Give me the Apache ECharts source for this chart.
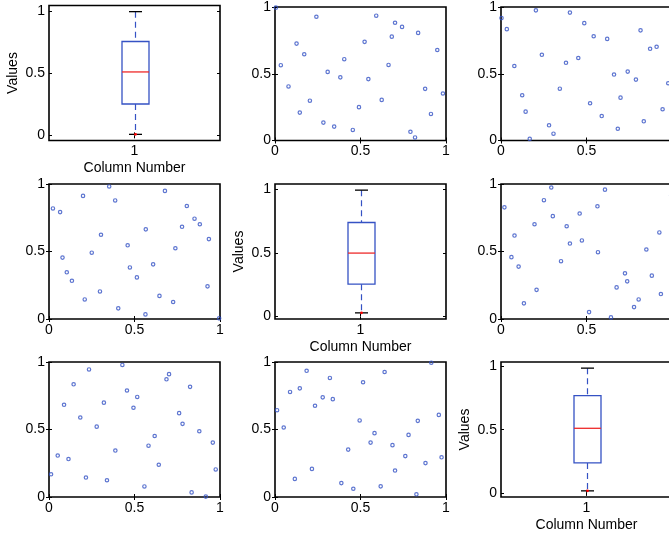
<!DOCTYPE html>
<html><head><meta charset="utf-8">
<script src="https://cdn.jsdelivr.net/npm/echarts@6/dist/echarts.min.js"></script>
<style>html,body{margin:0;padding:0;overflow:hidden;background:#fff}#c{width:680px;height:540px}</style>
</head><body><div id="c"></div><script>
// Scatter pair A (row1/col2 as x,y ; transposed at row2/col1)
const pairAx = [0.005,0.242,0.592,0.702,0.743,0.837,0.683,0.524,0.126,0.171,0.949,0.405,0.034,0.664,0.308,0.382,0.546,0.079,0.878,0.982,0.204,0.624,0.491,0.145,0.912,0.283,0.346,0.455,0.792,0.819];
const pairAy = [0.995,0.927,0.935,0.882,0.851,0.806,0.778,0.739,0.726,0.646,0.678,0.609,0.564,0.566,0.514,0.473,0.460,0.405,0.387,0.352,0.298,0.304,0.250,0.209,0.199,0.134,0.104,0.079,0.065,0.023];
// Scatter pair B (row3/col1 as x,y ; transposed at row1/col3)
const pairBx = [0.429,0.234,0.702,0.687,0.144,0.825,0.456,0.516,0.321,0.088,0.494,0.761,0.183,0.781,0.279,0.879,0.618,0.958,0.582,0.388,0.051,0.114,0.642,0.975,0.012,0.216,0.339,0.558,0.834,0.917];
const pairBy = [0.978,0.945,0.910,0.872,0.835,0.816,0.789,0.741,0.699,0.683,0.661,0.621,0.589,0.542,0.521,0.487,0.452,0.403,0.380,0.344,0.307,0.281,0.239,0.204,0.168,0.144,0.124,0.078,0.034,0.003];
// Scatter pair C (row3/col2 as x,y ; transposed at row2/col3)
const pairCx = [0.914,0.185,0.641,0.321,0.515,0.088,0.145,0.279,0.338,0.234,0.012,0.958,0.495,0.835,0.051,0.582,0.781,0.559,0.687,0.428,0.762,0.974,0.880,0.216,0.702,0.116,0.388,0.618,0.458,0.827];
const pairCy = [0.995,0.935,0.926,0.882,0.850,0.778,0.805,0.738,0.725,0.676,0.643,0.608,0.567,0.564,0.515,0.473,0.460,0.403,0.384,0.351,0.303,0.294,0.251,0.208,0.196,0.134,0.103,0.079,0.061,0.020];
// Box plot summaries for the three diagonal panels
const boxLow    = [0.008, 0.029, 0.016];
const boxQ1     = [0.252, 0.255, 0.237];
const boxMedian = [0.510, 0.500, 0.511];
const boxQ3     = [0.755, 0.741, 0.769];
const boxHigh   = [0.995, 0.996, 0.987];
const boxCategory = [1];
const valueTicks = [0, 0.5, 1];

const FONT = 'Liberation Sans, Arial, Helvetica, sans-serif';
const BLUE = '#3552c4';
const colLeft = [49, 275, 501];
const rowTop = [5.5, 184, 362];
const W = 171, H = 135;

function zip(a, b) { return a.map((v, i) => [v, b[i]]); }
const scatterData = {
  '0,1': zip(pairAx, pairAy), '1,0': zip(pairAy, pairAx),
  '2,0': zip(pairBx, pairBy), '0,2': zip(pairBy, pairBx),
  '2,1': zip(pairCx, pairCy), '1,2': zip(pairCy, pairCx)
};

const grid = [], xAxis = [], yAxis = [], series = [];
const lbl = { fontFamily: FONT, fontSize: 14, color: '#000', margin: 4 };
const tick = { inside: true, length: 3, lineStyle: { color: '#000', width: 1 } };

for (let r = 0; r < 3; r++) {
  for (let c = 0; c < 3; c++) {
    const gi = grid.length;
    grid.push({ left: colLeft[c], top: rowTop[r], width: W, height: H, show: true,
      borderColor: '#000', borderWidth: 1.6, backgroundColor: '#fff' });
    const isBox = r === c;
    let xmin = 0, xmax = 1, ymin = 0, ymax = 1;
    const xt = isBox ? boxCategory : valueTicks;
    if (isBox) {
      xmin = 0.5; xmax = 1.5;
      const rng = boxHigh[r] - boxLow[r];
      ymin = boxLow[r] - 0.05 * rng; ymax = boxHigh[r] + 0.05 * rng;
    }
    const xi = xAxis.length, yi = yAxis.length;
    xAxis.push({ type: 'value', gridIndex: gi, position: 'bottom', min: xmin, max: xmax,
      axisLine: { show: false }, splitLine: { show: false },
      axisTick: Object.assign({ customValues: xt }, tick),
      axisLabel: Object.assign({ customValues: xt }, lbl),
      name: isBox ? 'Column Number' : '', nameLocation: 'middle', nameGap: 21,
      nameTextStyle: { fontFamily: FONT, fontSize: 14, color: '#000' } });
    xAxis.push({ type: 'value', gridIndex: gi, position: 'top', min: xmin, max: xmax,
      axisLine: { show: false }, splitLine: { show: false },
      axisTick: Object.assign({ customValues: xt }, tick), axisLabel: { show: false } });
    yAxis.push({ type: 'value', gridIndex: gi, position: 'left', min: ymin, max: ymax,
      axisLine: { show: false }, splitLine: { show: false },
      axisTick: Object.assign({ customValues: valueTicks }, tick),
      axisLabel: Object.assign({ customValues: valueTicks }, lbl),
      name: isBox ? 'Values' : '', nameLocation: 'middle', nameRotate: 90, nameGap: 29,
      nameTextStyle: { fontFamily: FONT, fontSize: 14, color: '#000' } });
    yAxis.push({ type: 'value', gridIndex: gi, position: 'right', min: ymin, max: ymax,
      axisLine: { show: false }, splitLine: { show: false },
      axisTick: Object.assign({ customValues: valueTicks }, tick), axisLabel: { show: false } });

    if (isBox) {
      series.push({
        type: 'custom', xAxisIndex: xi, yAxisIndex: yi, clip: false,
        data: [[boxCategory[0], boxLow[r], boxQ1[r], boxMedian[r], boxQ3[r], boxHigh[r]]],
        renderItem: function (params, api) {
          const x = api.value(0);
          const pLo = api.coord([x, api.value(1)]);
          const pQ1 = api.coord([x, api.value(2)]);
          const pMd = api.coord([x, api.value(3)]);
          const pQ3 = api.coord([x, api.value(4)]);
          const pHi = api.coord([x, api.value(5)]);
          const cx = Math.round(pMd[0]) + 0.5, bw = 13.5, cw = 6.5;
          return { type: 'group', children: [
            { type: 'line', shape: { x1: cx, y1: pHi[1], x2: cx, y2: pQ3[1] },
              style: { stroke: BLUE, lineWidth: 1.2, lineDash: [6, 4] } },
            { type: 'line', shape: { x1: cx, y1: pQ1[1], x2: cx, y2: pLo[1] },
              style: { stroke: BLUE, lineWidth: 1.2, lineDash: [6, 4] } },
            { type: 'rect', shape: { x: cx - bw, y: pQ3[1], width: 2 * bw, height: pQ1[1] - pQ3[1] },
              style: { fill: 'none', stroke: BLUE, lineWidth: 1.3 } },
            { type: 'line', shape: { x1: cx - bw, y1: pMd[1], x2: cx + bw, y2: pMd[1] },
              style: { stroke: '#ee2a2a', lineWidth: 1.3 } },
            { type: 'line', shape: { x1: cx - cw, y1: pHi[1], x2: cx + cw, y2: pHi[1] },
              style: { stroke: '#000', lineWidth: 1.3 } },
            { type: 'line', shape: { x1: cx - cw, y1: pLo[1], x2: cx + cw, y2: pLo[1] },
              style: { stroke: '#000', lineWidth: 1.3 } },
            { type: 'circle', shape: { cx: cx, cy: pLo[1], r: 1.4 },
              style: { fill: '#ff0000' } }
          ] };
        }
      });
    } else {
      series.push({ type: 'scatter', xAxisIndex: xi, yAxisIndex: yi, clip: false,
        data: scatterData[r + ',' + c], symbol: 'circle', symbolSize: 3.4,
        itemStyle: { color: 'rgba(255,255,255,0)', borderColor: BLUE, borderWidth: 1.2 },
        emphasis: { disabled: true } });
    }
  }
}

const chart = echarts.init(document.getElementById('c'), null, { renderer: 'canvas' });
chart.setOption({ animation: false, backgroundColor: '#fff', textStyle: { fontFamily: FONT },
  grid, xAxis, yAxis, series });
</script></body></html>
